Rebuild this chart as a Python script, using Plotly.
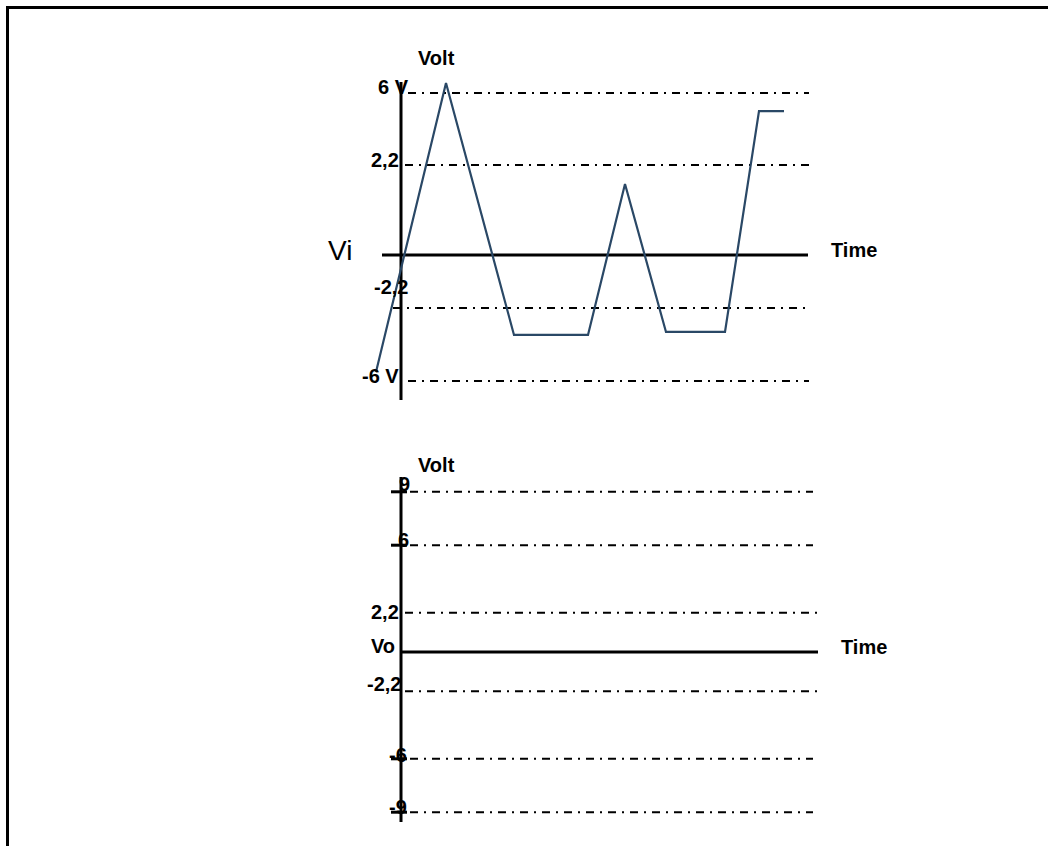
import plotly.graph_objects as go

# ---------------- data ----------------
# Input waveform Vi (time units, sketch-volt units of the upper panel)
vi_time = [-0.625, 1.125, 2.825, 4.675, 5.6, 6.625, 8.1, 8.95, 9.575]
vi_volt = [-4.33, 6.37, -2.96, -2.96, 2.63, -2.85, -2.85, 5.33, 5.33]

# Upper panel guide levels (as drawn) and their labels
vi_levels = [6.0, 3.33, -1.96, -4.67]
vi_labels = ["6 V", "2,2", "-2,2", "-6 V"]

# Lower panel guide levels and labels
vo_levels = [9, 6, 2.2, -2.2, -6, -9]
vo_labels = ["9", "6", "2,2", "-2,2", "-6", "-9"]

# ---------------- geometry helpers (pixel -> axis units) ----------------
W, H = 1048, 846
X0, XS = 401, 40.0          # vertical axis pixel x, px per time unit
Y0T, YST = 255, 27.0        # upper panel zero line px, px per unit
Y0B, YSB = 652, 17.8        # lower panel zero line px, px per unit


def tx(px):
    return (px - X0) / XS


def tyt(px):
    return (Y0T - px) / YST


def tyb(px):
    return (Y0B - px) / YSB


fig = go.Figure()

DASH = "8px,6px,2px,6px"
BLACK = "#000000"
WAVE = "#2a4866"

# ---- upper panel guide lines
vi_x_start = {6.0: tx(408), 3.33: tx(405), -1.96: tx(393), -4.67: tx(408)}
for lv in vi_levels:
    fig.add_trace(go.Scatter(x=[vi_x_start[lv], tx(809)], y=[lv, lv], mode="lines",
                             line=dict(color=BLACK, width=2, dash=DASH),
                             hoverinfo="skip", showlegend=False))

# ---- upper panel axes
fig.add_trace(go.Scatter(x=[0, 0], y=[tyt(82), tyt(400)], mode="lines",
                         line=dict(color=BLACK, width=3), hoverinfo="skip", showlegend=False))
fig.add_trace(go.Scatter(x=[tx(382), tx(808)], y=[0, 0], mode="lines",
                         line=dict(color=BLACK, width=3), hoverinfo="skip", showlegend=False))

# ---- waveform
fig.add_trace(go.Scatter(x=vi_time, y=vi_volt, mode="lines",
                         line=dict(color=WAVE, width=2.2), showlegend=False))

# ---- lower panel guide lines
for lv in vo_levels:
    if abs(lv) == 2.2:
        xs, xe = tx(405), tx(818)
    else:
        xs, xe = tx(410), tx(813)
    fig.add_trace(go.Scatter(x=[xs, xe], y=[lv, lv], mode="lines", yaxis="y2",
                             line=dict(color=BLACK, width=2, dash=DASH),
                             hoverinfo="skip", showlegend=False))
    if abs(lv) > 3:
        fig.add_trace(go.Scatter(x=[tx(391), tx(407)], y=[lv, lv], mode="lines", yaxis="y2",
                                 line=dict(color=BLACK, width=3),
                                 hoverinfo="skip", showlegend=False))

# ---- lower panel axes
fig.add_trace(go.Scatter(x=[0, 0], y=[tyb(477), tyb(822)], mode="lines", yaxis="y2",
                         line=dict(color=BLACK, width=3), hoverinfo="skip", showlegend=False))
fig.add_trace(go.Scatter(x=[0, tx(818)], y=[0, 0], mode="lines", yaxis="y2",
                         line=dict(color=BLACK, width=3), hoverinfo="skip", showlegend=False))

# ---------------- annotations ----------------
FONT = "Liberation Sans, Arial, sans-serif"
ann = []


def lab(text, x, y, yref="y", xanchor="center", size=20, bold=True):
    ann.append(dict(text=("<b>%s</b>" % text) if bold else text, x=x, y=y, xref="x", yref=yref,
                    xanchor=xanchor, yanchor="middle", showarrow=False,
                    font=dict(family=FONT, size=size, color=BLACK)))


# upper panel
lab("Volt", tx(436), tyt(58))
lab(vi_labels[0], tx(411), tyt(87), xanchor="right")
lab(vi_labels[1], tx(401), tyt(160), xanchor="right")
lab(vi_labels[2], tx(410), tyt(287), xanchor="right")
lab(vi_labels[3], tx(401), tyt(376), xanchor="right")
lab("Time", tx(829), tyt(250), xanchor="left")
lab("Vi", tx(354), tyt(250), xanchor="right", size=28, bold=False)

# lower panel
lab("Volt", tx(436), tyb(465), yref="y2")
lab(vo_labels[0], tx(404), tyb(484), yref="y2")
lab(vo_labels[1], tx(403), tyb(540), yref="y2")
lab(vo_labels[2], tx(401), tyb(612), yref="y2", xanchor="right")
lab("Vo", tx(397), tyb(646), yref="y2", xanchor="right")
lab(vo_labels[3], tx(403), tyb(684), yref="y2", xanchor="right")
lab(vo_labels[4], tx(409), tyb(755), yref="y2", xanchor="right")
lab(vo_labels[5], tx(409), tyb(807), yref="y2", xanchor="right")
lab("Time", tx(839), tyb(647), yref="y2", xanchor="left")

# ---------------- frame ----------------
shapes = [
    dict(type="line", xref="paper", yref="paper", x0=6 / W, x1=1, y0=1 - 7.5 / H, y1=1 - 7.5 / H,
         line=dict(color=BLACK, width=3)),
    dict(type="line", xref="paper", yref="paper", x0=7.5 / W, x1=7.5 / W, y0=0, y1=1 - 6 / H,
         line=dict(color=BLACK, width=3)),
]

fig.update_layout(
    width=W, height=H, margin=dict(l=0, r=0, t=0, b=0),
    paper_bgcolor="white", plot_bgcolor="white",
    xaxis=dict(range=[tx(0), tx(W)], visible=False, domain=[0, 1]),
    yaxis=dict(range=[tyt(H), tyt(0)], visible=False, domain=[0, 1]),
    yaxis2=dict(range=[tyb(H), tyb(0)], visible=False, overlaying="y"),
    annotations=ann, shapes=shapes, showlegend=False,
)

fig.write_html("out.html", config={"displayModeBar": False},
               post_script="document.body.style.margin='0';document.body.style.overflow='hidden';")
